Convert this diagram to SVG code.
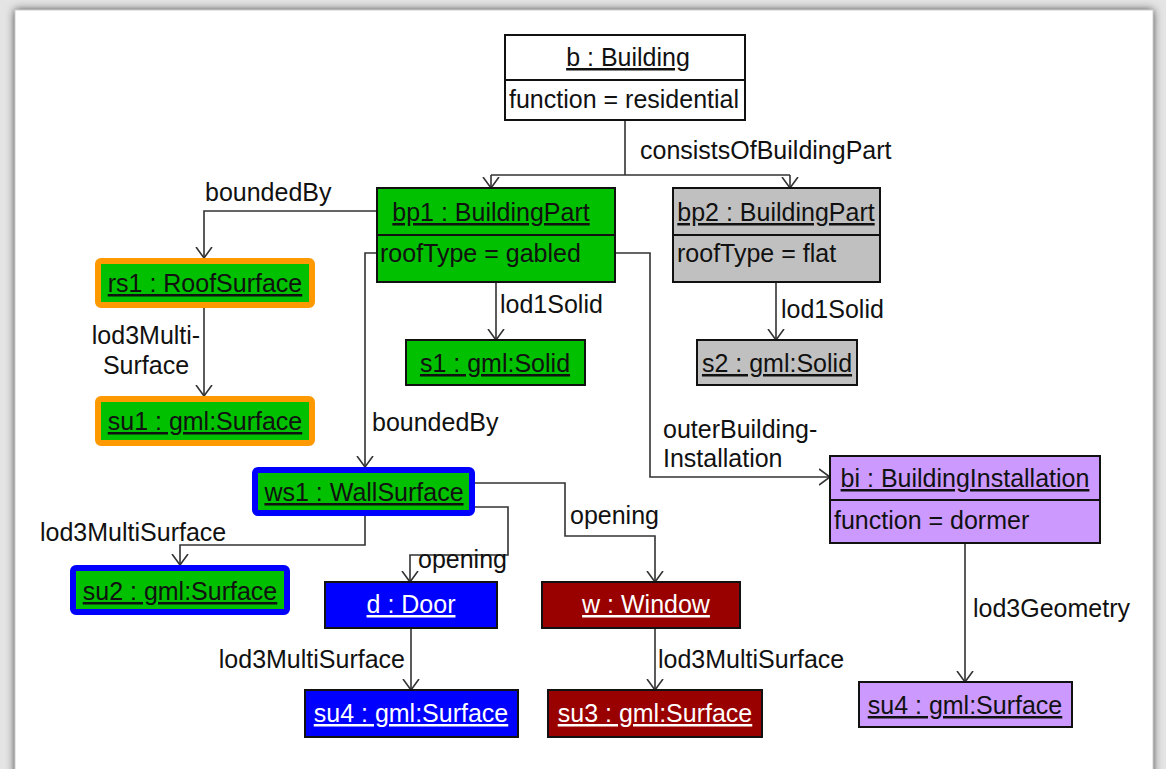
<svg xmlns="http://www.w3.org/2000/svg" width="1166" height="769" viewBox="0 0 1166 769">
<style>
text{font-family:"Liberation Sans",Arial,sans-serif;font-size:25px;fill:#111}
.t{text-anchor:middle;text-decoration:underline}
.w{fill:#fff}
.c{fill:none;stroke:#333;stroke-width:1.6}
.ca{fill:none;stroke:#333;stroke-width:1.6;marker-end:url(#arr)}
.box{stroke:#111;stroke-width:2}
.g{fill:#00c000}
.gr{fill:#c0c0c0}
.bl{fill:#0000ff}
.dr{fill:#990000}
.pu{fill:#cc99ff}
.or{fill:#00c000;stroke:#ff9900;stroke-width:6}
.bb{fill:#00c000;stroke:#0000ff;stroke-width:6}
</style>
<defs>
<marker id="arr" markerUnits="userSpaceOnUse" markerWidth="12" markerHeight="18" viewBox="0 0 12 18" refX="11" refY="9" orient="auto">
<path d="M0,1 L11,9 L0,17" fill="none" stroke="#333" stroke-width="1.6"/>
</marker>
<filter id="sh" x="-5%" y="-5%" width="110%" height="110%">
<feGaussianBlur stdDeviation="4.5"/>
</filter>
</defs>
<rect x="0" y="0" width="1166" height="769" fill="#e4e4e4"/>
<rect x="15" y="10" width="1138" height="800" fill="#333" filter="url(#sh)"/>
<rect x="15" y="10" width="1138" height="800" fill="#fff" stroke="#d0d0d0" stroke-width="1"/>

<g id="connectors">
<path class="c" d="M625,120 V175 M491,175 H790"/>
<path class="ca" d="M491,175 V188"/>
<path class="ca" d="M790,175 V188"/>
<path class="ca" d="M377,211 H204 V258"/>
<path class="ca" d="M204,308 V396"/>
<path class="ca" d="M496,282 V340"/>
<path class="ca" d="M776,282 V340"/>
<path class="ca" d="M377,253 H365 V467"/>
<path class="ca" d="M615,253 H650 V477 H830"/>
<path class="ca" d="M365,516 V545 H180 V565"/>
<path class="ca" d="M475,507 H508 V555 H410 V582"/>
<path class="ca" d="M475,483 H565 V536 H655 V582"/>
<path class="ca" d="M411,628 V690"/>
<path class="ca" d="M655,628 V690"/>
<path class="ca" d="M965,543 V682"/>
<text x="640" y="159">consistsOfBuildingPart</text>
<text x="205" y="201">boundedBy</text>
<text x="146" y="344" text-anchor="middle">lod3Multi-</text>
<text x="146" y="374" text-anchor="middle">Surface</text>
<text x="500" y="313">lod1Solid</text>
<text x="781" y="318">lod1Solid</text>
<text x="372" y="431">boundedBy</text>
<text x="663" y="438">outerBuilding-</text>
<text x="663" y="467">Installation</text>
<text x="40" y="541">lod3MultiSurface</text>
<text x="418" y="568">opening</text>
<text x="570" y="524">opening</text>
<text x="405" y="668" text-anchor="end">lod3MultiSurface</text>
<text x="658" y="668">lod3MultiSurface</text>
<text x="973" y="617">lod3Geometry</text>
</g>

<g id="b">
<rect class="box" x="505" y="35" width="240" height="85" fill="#fff"/>
<line class="box" x1="505" y1="80" x2="745" y2="80"/>
<text class="t" x="628" y="66">b : Building</text>
<text x="509" y="108">function = residential</text>
</g>

<g id="bp1">
<rect class="box g" x="377" y="188" width="238" height="94"/>
<line class="box" x1="377" y1="235" x2="615" y2="235"/>
<text class="t" x="491" y="221">bp1 : BuildingPart</text>
<text x="380" y="262">roofType = gabled</text>
</g>

<g id="bp2">
<rect class="box gr" x="673" y="188" width="207" height="94"/>
<line class="box" x1="673" y1="235" x2="880" y2="235"/>
<text class="t" x="776" y="221">bp2 : BuildingPart</text>
<text x="677" y="262">roofType = flat</text>
</g>

<g id="rs1">
<rect class="or" x="98" y="261" width="214" height="44" rx="3"/>
<text class="t" x="205" y="292">rs1 : RoofSurface</text>
</g>

<g id="su1">
<rect class="or" x="98" y="399" width="214" height="44" rx="3"/>
<text class="t" x="205" y="430">su1 : gml:Surface</text>
</g>

<g id="s1">
<rect class="box g" x="406" y="340" width="179" height="45"/>
<text class="t" x="495" y="372">s1 : gml:Solid</text>
</g>

<g id="s2">
<rect class="box gr" x="697" y="340" width="160" height="45"/>
<text class="t" x="777" y="372">s2 : gml:Solid</text>
</g>

<g id="ws1">
<rect class="bb" x="255" y="470" width="217" height="43" rx="3"/>
<text class="t" x="364" y="501">ws1 : WallSurface</text>
</g>

<g id="su2">
<rect class="bb" x="73" y="568" width="214" height="44" rx="3"/>
<text class="t" x="180" y="600">su2 : gml:Surface</text>
</g>

<g id="d">
<rect class="box bl" x="325" y="582" width="172" height="46"/>
<text class="t w" x="411" y="613">d : Door</text>
</g>

<g id="w">
<rect class="box dr" x="542" y="582" width="198" height="46"/>
<text class="t w" x="646" y="613">w : Window</text>
</g>

<g id="su4a">
<rect class="box bl" x="305" y="690" width="213" height="47"/>
<text class="t w" x="411" y="722">su4 : gml:Surface</text>
</g>

<g id="su3">
<rect class="box dr" x="548" y="690" width="214" height="47"/>
<text class="t w" x="655" y="722">su3 : gml:Surface</text>
</g>

<g id="bi">
<rect class="box pu" x="830" y="456" width="270" height="87"/>
<line class="box" x1="830" y1="500" x2="1100" y2="500"/>
<text class="t" x="965" y="487">bi : BuildingInstallation</text>
<text x="834" y="529">function = dormer</text>
</g>

<g id="su4b">
<rect class="box pu" x="859" y="682" width="213" height="45"/>
<text class="t" x="965" y="714">su4 : gml:Surface</text>
</g>
</svg>
